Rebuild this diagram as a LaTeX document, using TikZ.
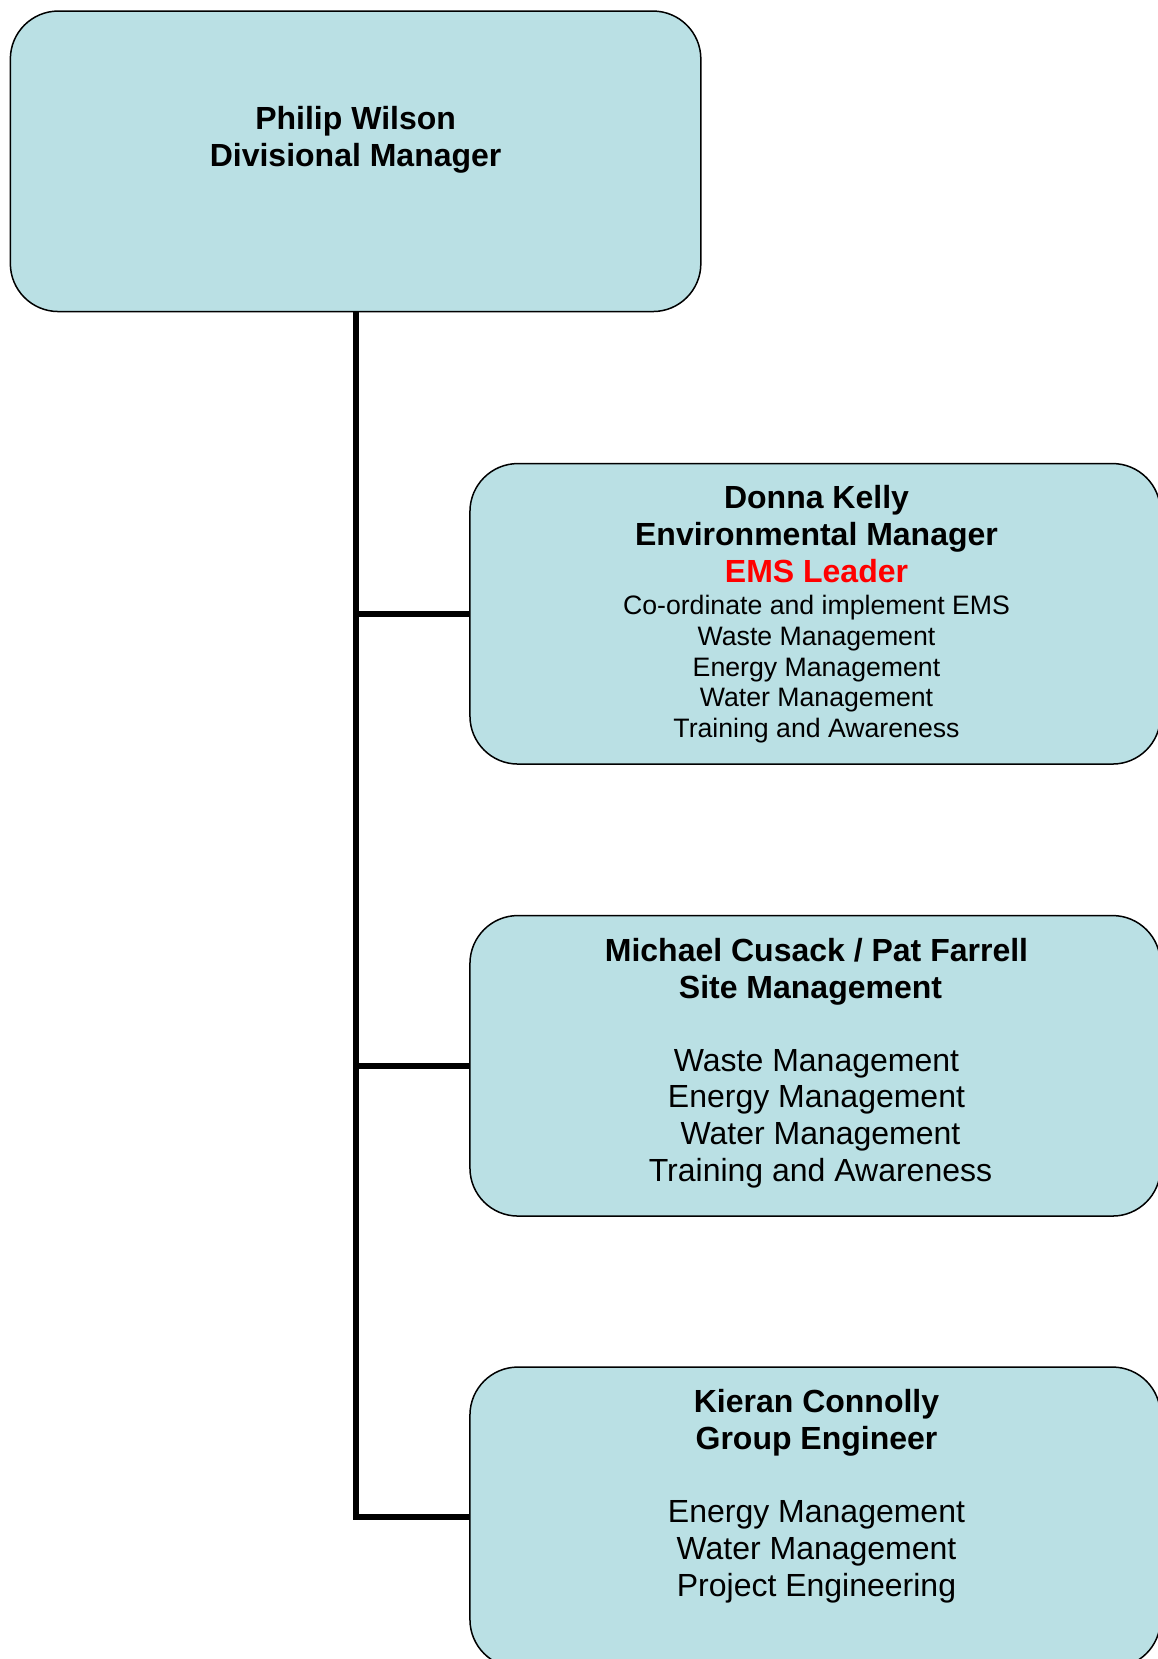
\documentclass[tikz,border=0pt]{standalone}
\usepackage{fontspec}
\setmainfont{Liberation Sans}
\definecolor{boxfill}{RGB}{186,224,228}
\definecolor{emsred}{RGB}{255,0,0}
\tikzset{
  orgbox/.style={draw=black, line width=1.5pt, fill=boxfill, rounded corners=48pt,
    minimum width=690.5pt, minimum height=300.5pt, inner sep=0pt},
  conn/.style={draw=black, line width=5.8pt},
  bigb/.style={anchor=base, inner sep=0pt, font=\fontsize{32}{37}\selectfont\bfseries},
  bigr/.style={anchor=base, inner sep=0pt, font=\fontsize{32}{37}\selectfont},
  smallr/.style={anchor=base, inner sep=0pt, font=\fontsize{26.67}{30.7}\selectfont},
}
\begin{document}
\begin{tikzpicture}[x=1pt,y=-1pt]
\useasboundingbox (0,0) rectangle (1158,1659);
\clip (0,0) rectangle (1158,1659);
% boxes
\node[orgbox] (top) at (355.6,161.3) {};
\node[orgbox] (b2) at (815.2,613.8) {};
\node[orgbox] (b3) at (815.2,1065.8) {};
\node[orgbox] (b4) at (815.2,1517.3) {};
% connectors
\draw[conn] (top.south) -- (top.south |- b4.west) -- (b4.west);
\draw[conn] (top.south |- b2.west) -- (b2.west);
\draw[conn] (top.south |- b3.west) -- (b3.west);
% top box text
\node[bigb] (t1) at (355.6,129.5) {Philip Wilson};
\node[bigb] (t2) at (355.6,166.5) {Divisional Manager};
% box 2 text
\node[bigb] (d1) at (816.5,508.7) {Donna Kelly};
\node[bigb] (d2) at (816.5,545.7) {Environmental Manager};
\node[bigb, text=emsred] (d3) at (816.5,582.7) {EMS Leader};
\node[smallr] (d4) at (816.5,614.7) {Co-ordinate and implement EMS};
\node[smallr] (d5) at (816.5,645.4) {Waste Management};
\node[smallr] (d6) at (816.5,676.1) {Energy Management};
\node[smallr] (d7) at (816.5,706.8) {Water Management};
\node[smallr] (d8) at (816.5,737.5) {Training and Awareness};
% box 3 text
\node[bigb] (m1) at (816.5,961.3) {Michael Cusack / Pat Farrell};
\node[bigb] (m2) at (810.5,998.0) {Site Management};
\node[bigr] (m3) at (816.5,1071.3) {Waste Management};
\node[bigr] (m4) at (816.5,1107.9) {Energy Management};
\node[bigr] (m5) at (820.5,1144.5) {Water Management};
\node[bigr] (m6) at (820.5,1181.2) {Training and Awareness};
% box 4 text
\node[bigb] (k1) at (816.5,1412.8) {Kieran Connolly};
\node[bigb] (k2) at (816.5,1449.5) {Group Engineer};
\node[bigr] (k3) at (816.5,1522.8) {Energy Management};
\node[bigr] (k4) at (816.5,1559.5) {Water Management};
\node[bigr] (k5) at (816.5,1596.2) {Project Engineering};
\end{tikzpicture}
\end{document}
